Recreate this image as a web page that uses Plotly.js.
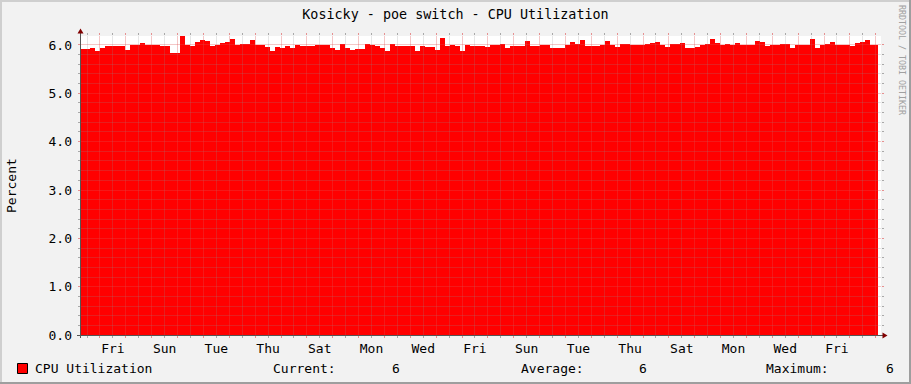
<!DOCTYPE html>
<html><head><meta charset="utf-8">
<script src="https://cdn.plot.ly/plotly-3.0.1.min.js"></script>
<style>
html,body{margin:0;padding:0;background:#F2F2F2;overflow:hidden}
#chart{width:911px;height:384px}
#chart svg .subplot path{shape-rendering:crispEdges}
</style>
</head><body><div id="chart"></div>
<script>
// ---- data (time in hours from Friday 00:00 of the first labelled day) ----
const TITLE = 'Kosicky - poe switch - CPU Utilization';
const SERIES_NAME = 'CPU Utilization';
const Y_TITLE = 'Percent';
const WATERMARK = 'RRDTOOL / TOBI OETIKER';
const START_HOUR = -18.57;
const STEP_HOURS = 4.641;
const END_HOUR = 722.12;
const X_RANGE = [-17.63, 724.9];
const Y_RANGE = [0, 6.186];
const cpuValues = [
  5.92,5.92,5.94,5.88,5.94,5.98,5.98,5.97,5.97,5.90,
  6.00,6.00,6.04,5.99,5.99,6.00,5.98,5.98,5.83,5.83,
  6.18,6.00,5.98,6.07,6.10,6.09,5.97,6.00,6.04,6.055,
  6.12,6.00,6.02,6.02,6.11,6.00,6.00,5.95,5.87,5.95,
  5.94,5.98,5.94,6.00,5.97,5.97,5.98,5.99,5.99,5.99,
  5.94,5.90,6.03,5.94,5.90,5.92,5.92,6.02,6.00,5.98,
  5.94,5.87,6.02,5.98,5.98,5.98,5.98,5.88,5.98,5.96,
  5.96,5.90,6.145,5.98,6.00,5.97,5.88,6.00,5.97,5.97,
  5.98,5.95,6.00,5.99,6.02,5.945,5.98,5.98,5.98,6.09,
  5.97,5.98,6.00,6.00,5.945,5.945,5.945,6.00,6.07,6.02,
  6.11,5.98,5.98,5.98,6.00,6.09,6.00,5.95,6.02,6.02,
  6.00,6.00,6.00,6.02,6.04,6.07,6.00,5.95,6.02,6.02,
  6.04,5.945,5.945,5.95,6.00,6.02,6.12,6.04,5.99,6.02,
  6.00,6.04,6.00,6.00,6.00,6.08,6.07,5.98,6.00,6.00,
  6.02,6.02,5.945,6.00,6.00,6.00,6.12,5.945,5.99,6.03,
  6.07,6.00,6.00,6.00,5.98,6.04,6.07,6.11,6.00,6.00
];
const LABEL_HOURS = [12,60,108,156,204,252,300,348,396,444,492,540,588,636,684];
const DAY_LABELS = ['Fri','Sun','Tue','Thu','Sat','Mon','Wed','Fri','Sun','Tue','Thu','Sat','Mon','Wed','Fri'];
const Y_TICKS = [0,1,2,3,4,5,6];
const CURRENT_VALUE = '6';
const AVERAGE_VALUE = '6';
const MAXIMUM_VALUE = '6';

// ---- build ----
const xs = cpuValues.map((v,i) => START_HOUR + i*STEP_HOURS);
xs.push(END_HOUR);
const ys = cpuValues.concat([cpuValues[cpuValues.length-1]]);

const FONT = 'DejaVu Sans Mono';
// rrdtool's faint dotted grid approximated by thin translucent solid lines
const GRID = 'rgba(143,143,143,0.22)';
const MGRID = 'rgba(222,79,79,0.32)';
const GRID_TICK = 'rgba(143,143,143,0.75)';
const MGRID_TICK = 'rgba(222,79,79,0.6)';
const L = 81, T = 36, W = 800, H = 299;
const px = x => (x - L) / W;
const py = y => (T + H - y) / H;

const trace = {
  x: xs, y: ys, xaxis: 'x', yaxis: 'y',
  type: 'scatter', mode: 'lines', line: {shape: 'hv', width: 0, color: '#FF0000'},
  fill: 'tozeroy', fillcolor: '#FF0000', name: SERIES_NAME, hoverinfo: 'skip'
};
// empty trace so that the grid subplot (x2/y2, drawn above the data) exists
const gridHolder = {x: [], y: [], xaxis: 'x2', yaxis: 'y2', type: 'scatter', mode: 'lines',
  hoverinfo: 'skip', showlegend: false};

function ann(text, x, y, opts) {
  return Object.assign({text: text, x: px(x), y: py(y), xref: 'paper', yref: 'paper',
    showarrow: false, xanchor: 'left', yanchor: 'middle',
    font: {family: FONT, size: 13, color: '#000'}}, opts || {});
}

const layout = {
  width: 911, height: 384,
  margin: {l: L, r: 911 - L - W, t: T, b: 384 - T - H, pad: 0},
  paper_bgcolor: '#F2F2F2', plot_bgcolor: 'rgba(0,0,0,0)',
  showlegend: false,
  title: {text: TITLE, xref: 'container', yref: 'container', x: 0.5, y: 1 - 14/384,
          xanchor: 'center', yanchor: 'middle', font: {family: FONT, size: 13.4, color: '#000'}},
  xaxis: {range: X_RANGE, anchor: 'y', showgrid: false, zeroline: false,
          tickmode: 'array', tickvals: LABEL_HOURS, ticktext: DAY_LABELS, ticks: '',
          ticklabelstandoff: 4,
          tickfont: {family: FONT, size: 13, color: '#000'}, showline: false},
  yaxis: {range: Y_RANGE, anchor: 'x', showgrid: false, zeroline: false,
          tickmode: 'array', tickvals: Y_TICKS, tickformat: '.1f', ticks: '',
          ticklabelstandoff: 8,
          tickfont: {family: FONT, size: 13, color: '#000'}, showline: false},
  xaxis2: {range: X_RANGE, anchor: 'y2', domain: [0,1], showticklabels: false,
           zeroline: false, tick0: 0, dtick: 24,
           showgrid: true, gridcolor: MGRID, gridwidth: 1,
           ticks: 'outside', ticklen: 2, tickcolor: MGRID_TICK, mirror: 'ticks',
           minor: {tick0: 0, dtick: 12, showgrid: true, gridcolor: GRID,
                   gridwidth: 1, ticks: 'outside', ticklen: 2, tickcolor: GRID_TICK}},
  yaxis2: {range: Y_RANGE, anchor: 'x2', domain: [0,1], showticklabels: false, zeroline: false,
           tick0: 0, dtick: 1, showgrid: true, gridcolor: MGRID, gridwidth: 1,
           ticks: 'outside', ticklen: 2, tickcolor: MGRID_TICK, mirror: 'ticks',
           minor: {tick0: 0, dtick: 0.2, showgrid: true, gridcolor: GRID,
                   gridwidth: 1, ticks: 'outside', ticklen: 2, tickcolor: GRID_TICK}},
  shapes: [
    // white canvas under everything
    {type:'rect', xref:'paper', yref:'paper', x0:0, x1:1, y0:0, y1:1, fillcolor:'#FFFFFF', line:{width:0}, layer:'below'},
    // bevel frame
    {type:'rect', xref:'paper', yref:'paper', x0:px(0), x1:px(911), y0:py(0), y1:py(2), fillcolor:'#CFCFCF', line:{width:0}},
    {type:'rect', xref:'paper', yref:'paper', x0:px(0), x1:px(2), y0:py(0), y1:py(384), fillcolor:'#CFCFCF', line:{width:0}},
    {type:'rect', xref:'paper', yref:'paper', x0:px(0), x1:px(911), y0:py(382), y1:py(384), fillcolor:'#9E9E9E', line:{width:0}},
    {type:'rect', xref:'paper', yref:'paper', x0:px(909), x1:px(911), y0:py(0), y1:py(384), fillcolor:'#9E9E9E', line:{width:0}},
    // axes
    {type:'line', xref:'paper', yref:'paper', x0:px(80.5), x1:px(80.5), y0:py(338), y1:py(32), line:{color:'#555', width:1}},
    {type:'line', xref:'paper', yref:'paper', x0:px(77), x1:px(884), y0:py(335.5), y1:py(335.5), line:{color:'#555', width:1}},
    {type:'path', xref:'paper', yref:'paper',
     path:`M ${px(77.5)} ${py(33.5)} L ${px(80.5)} ${py(28.5)} L ${px(83.5)} ${py(33.5)} Z`,
     fillcolor:'#800000', line:{width:0}},
    {type:'path', xref:'paper', yref:'paper',
     path:`M ${px(882.5)} ${py(332.5)} L ${px(887.5)} ${py(335.5)} L ${px(882.5)} ${py(338.5)} Z`,
     fillcolor:'#800000', line:{width:0}},
    // legend swatch
    {type:'rect', xref:'paper', yref:'paper', x0:px(17.5), x1:px(27.5), y0:py(373.5), y1:py(363.5),
     fillcolor:'#FF0000', line:{color:'#000', width:1}}
  ],
  annotations: [
    ann(Y_TITLE, 11, 186, {xanchor:'center', textangle: -90}),
    ann(SERIES_NAME, 33, 368.5),
    ann('Current:', 271, 368.5),
    ann(CURRENT_VALUE, 396.3, 368.5, {xanchor:'center'}),
    ann('Average:', 519, 368.5),
    ann(AVERAGE_VALUE, 643, 368.5, {xanchor:'center'}),
    ann('Maximum:', 764, 368.5),
    ann(MAXIMUM_VALUE, 889.5, 368.5, {xanchor:'center'}),
    ann(WATERMARK, 902, 60, {xanchor:'center', textangle: 90, font:{family: FONT, size: 8.3, color:'#A0A0A0'}})
  ]
};

Plotly.newPlot('chart', [trace, gridHolder], layout, {staticPlot: true, displayModeBar: false});
</script>
</body></html>
